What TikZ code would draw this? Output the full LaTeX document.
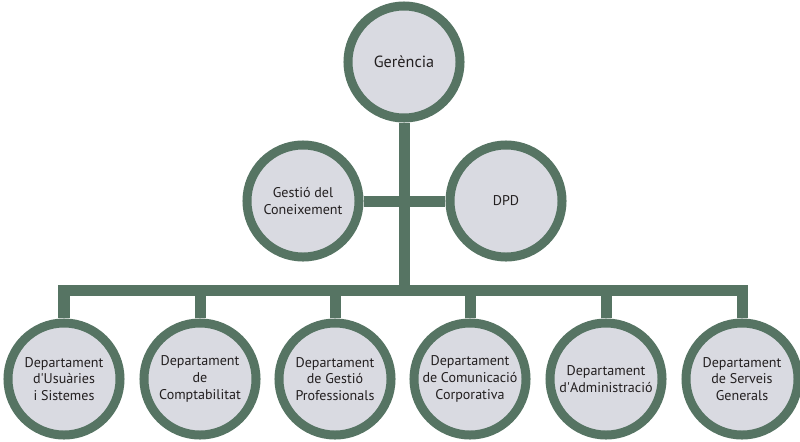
\documentclass[tikz,border=0pt]{standalone}
\usepackage{fontspec}
\setmainfont{PT Sans}
\usepackage{tikz}
\usetikzlibrary{
  positioning,
  backgrounds
}
\definecolor{orgRing}{HTML}{567463}
\definecolor{orgFill}{HTML}{D9DAE1}
\definecolor{orgText}{HTML}{231F20}
\tikzset{
  unit/.style={
    circle, draw=orgRing, fill=orgFill, line width=0.225cm,
    minimum size=2.8cm, inner sep=0pt, align=center, text=orgText,
    font=\fontsize{10}{12}\selectfont
  },
  head/.style={unit, font=\fontsize{11.5}{13}\selectfont},
  link/.style={draw=orgRing, line width=0.275cm}
}

\begin{document}
\begin{tikzpicture}[x=0.025cm, y=-0.025cm]
  \useasboundingbox (0,0) rectangle (800,441);
  \node[head] (ger) at (404,62) {Gerència};
  \node[unit] (gc) at (303,201) {Gestió del\\Coneixement};
  \node[unit] (dpd) at (506,201) {DPD};
  \node[unit] (us) at (64,379) {Departament\\d\textquotesingle Usuàries\\i Sistemes};
  \node[unit] (comp) at (200,379) {Departament\\de\\Comptabilitat};
  \node[unit] (gp) at (335,379) {Departament\\de Gestió\\Professionals};
  \node[unit] (cc) at (470,379) {Departament\\de Comunicació\\Corporativa};
  \node[unit] (adm) at (606,379) {Departament\\d\textquotesingle Administració};
  \node[unit] (sg) at (742,379) {Departament\\de Serveis\\Generals};
  \coordinate (bar) at (404,290);
  \begin{scope}[on background layer]
    \draw[link] (ger) -- (bar);
    \draw[link] (gc) -- (dpd);
    \draw[link] (us) |- (bar) -| (sg);
    \draw[link] (comp) -- (comp |- bar);
    \draw[link] (gp) -- (gp |- bar);
    \draw[link] (cc) -- (cc |- bar);
    \draw[link] (adm) -- (adm |- bar);
  \end{scope}
\end{tikzpicture}
\end{document}
